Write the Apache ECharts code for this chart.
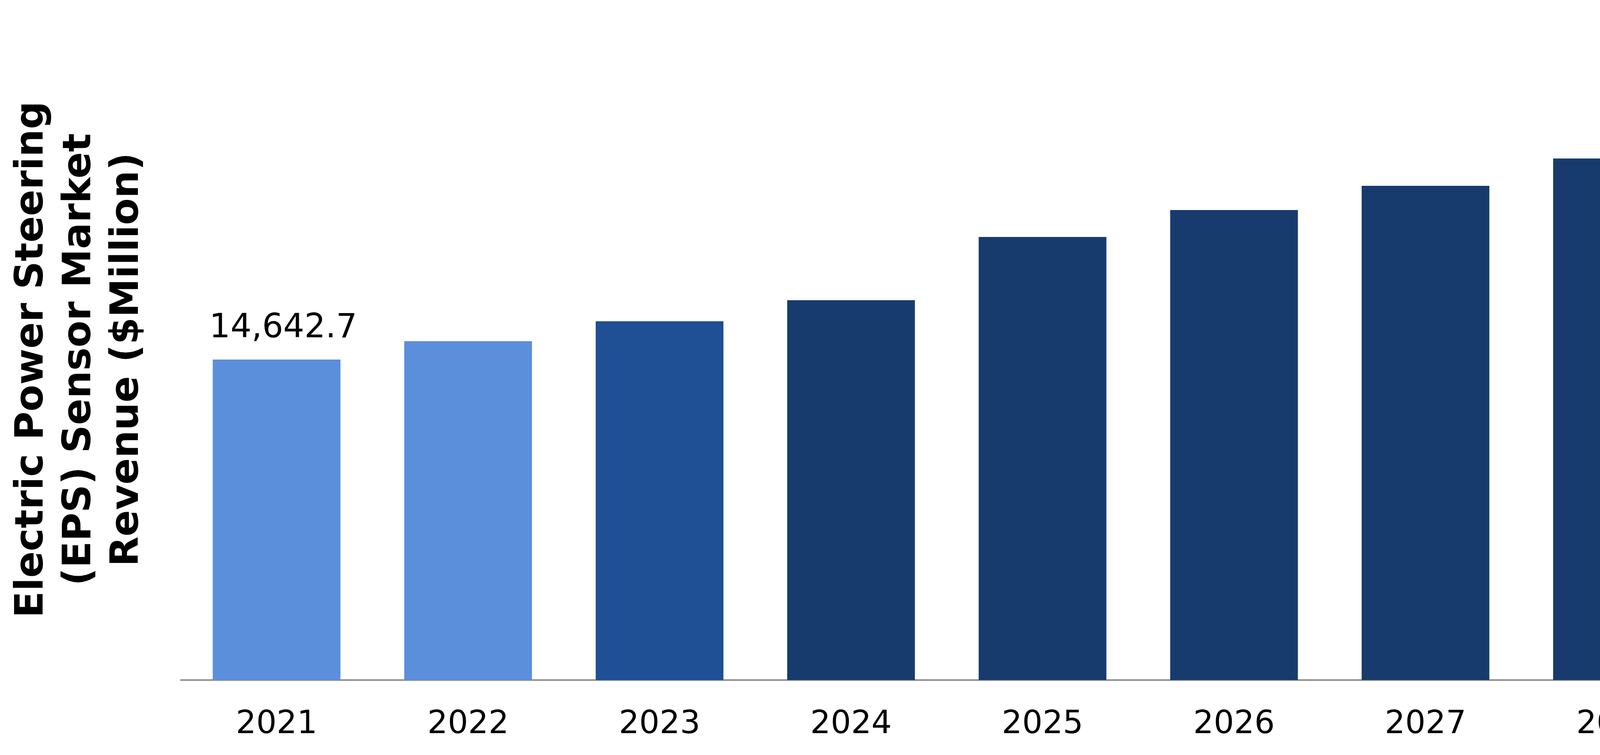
<!DOCTYPE html>
<html>
<head>
<meta charset="utf-8">
<script src="https://cdn.jsdelivr.net/npm/echarts@6/dist/echarts.min.js"></script>
<style>
  html, body { margin: 0; padding: 0; background: #ffffff; }
  #main { width: 5459px; height: 1934px; }
</style>
</head>
<body>
<div id="main"></div>
<script>
  // chart data
  var years = ['2021', '2022', '2023', '2024', '2025', '2026', '2027', '2028', '2029', '2030'];
  var revenue = [14642.7, 15481, 16390, 17353, 20243, 21473, 22579, 23827, 25236, 26592];
  var barColors = ['#5b8fdb', '#5b8fdb', '#1f4f94', '#183b6e', '#183b6e',
    '#183b6e', '#183b6e', '#183b6e', '#183b6e', '#183b6e'];
  var labelled = ['2021'];
  var cagrText = 'CAGR: 7.0%';
  var yName = 'Electric Power Steering\n(EPS) Sensor Market\nRevenue ($Million)';

  var myChart = echarts.init(document.getElementById('main'));

  /**
   * @name buildBars
   * @desc turns the value list into bar items with their colour and label
   * @returns {Array}
   */
  function buildBars() {
    return revenue.map(function (v, i) {
      var item = {
        value: v,
        itemStyle: { color: barColors[i] }
      };
      if (labelled.indexOf(years[i]) !== -1) {
        item.label = {
          show: true,
          position: 'top',
          distance: 37,
          offset: [17, 0],
          color: '#000000',
          fontFamily: 'DejaVu Sans',
          fontSize: 85,
          formatter: function (p) {
            return p.value.toLocaleString('en-US', {
              minimumFractionDigits: 1,
              maximumFractionDigits: 1
            });
          }
        };
      }
      return item;
    });
  }

  var option = {
    animation: false,
    backgroundColor: '#ffffff',
    grid: {
      left: 463,
      right: 94,
      top: 100,
      bottom: 192,
      containLabel: false
    },
    xAxis: {
      type: 'category',
      data: years,
      axisTick: { show: false },
      axisLine: {
        show: true,
        lineStyle: { color: '#8c8c8c', width: 4 }
      },
      axisLabel: {
        color: '#000000',
        fontFamily: 'DejaVu Sans',
        fontSize: 82,
        margin: 74
      },
      splitLine: { show: false }
    },
    yAxis: {
      type: 'value',
      min: 0,
      max: 29285,
      name: yName,
      nameLocation: 'middle',
      nameRotate: 90,
      nameGap: 75,
      nameTextStyle: {
        color: '#000000',
        fontFamily: 'DejaVu Sans',
        fontWeight: 'bold',
        fontSize: 100,
        lineHeight: 122,
        align: 'center'
      },
      axisLine: { show: false },
      axisTick: { show: false },
      axisLabel: { show: false },
      splitLine: { show: false }
    },
    graphic: [
      {
        type: 'text',
        x: 4591,
        y: 127,
        style: {
          text: cagrText,
          fill: '#000000',
          font: 'bold 105px "DejaVu Sans"',
          align: 'center',
          verticalAlign: 'middle',
          textAlign: 'center',
          textVerticalAlign: 'middle'
        }
      }
    ],
    series: [
      {
        type: 'bar',
        barWidth: '66.7%',
        data: buildBars()
      }
    ]
  };

  myChart.setOption(option);
</script>
</body>
</html>
